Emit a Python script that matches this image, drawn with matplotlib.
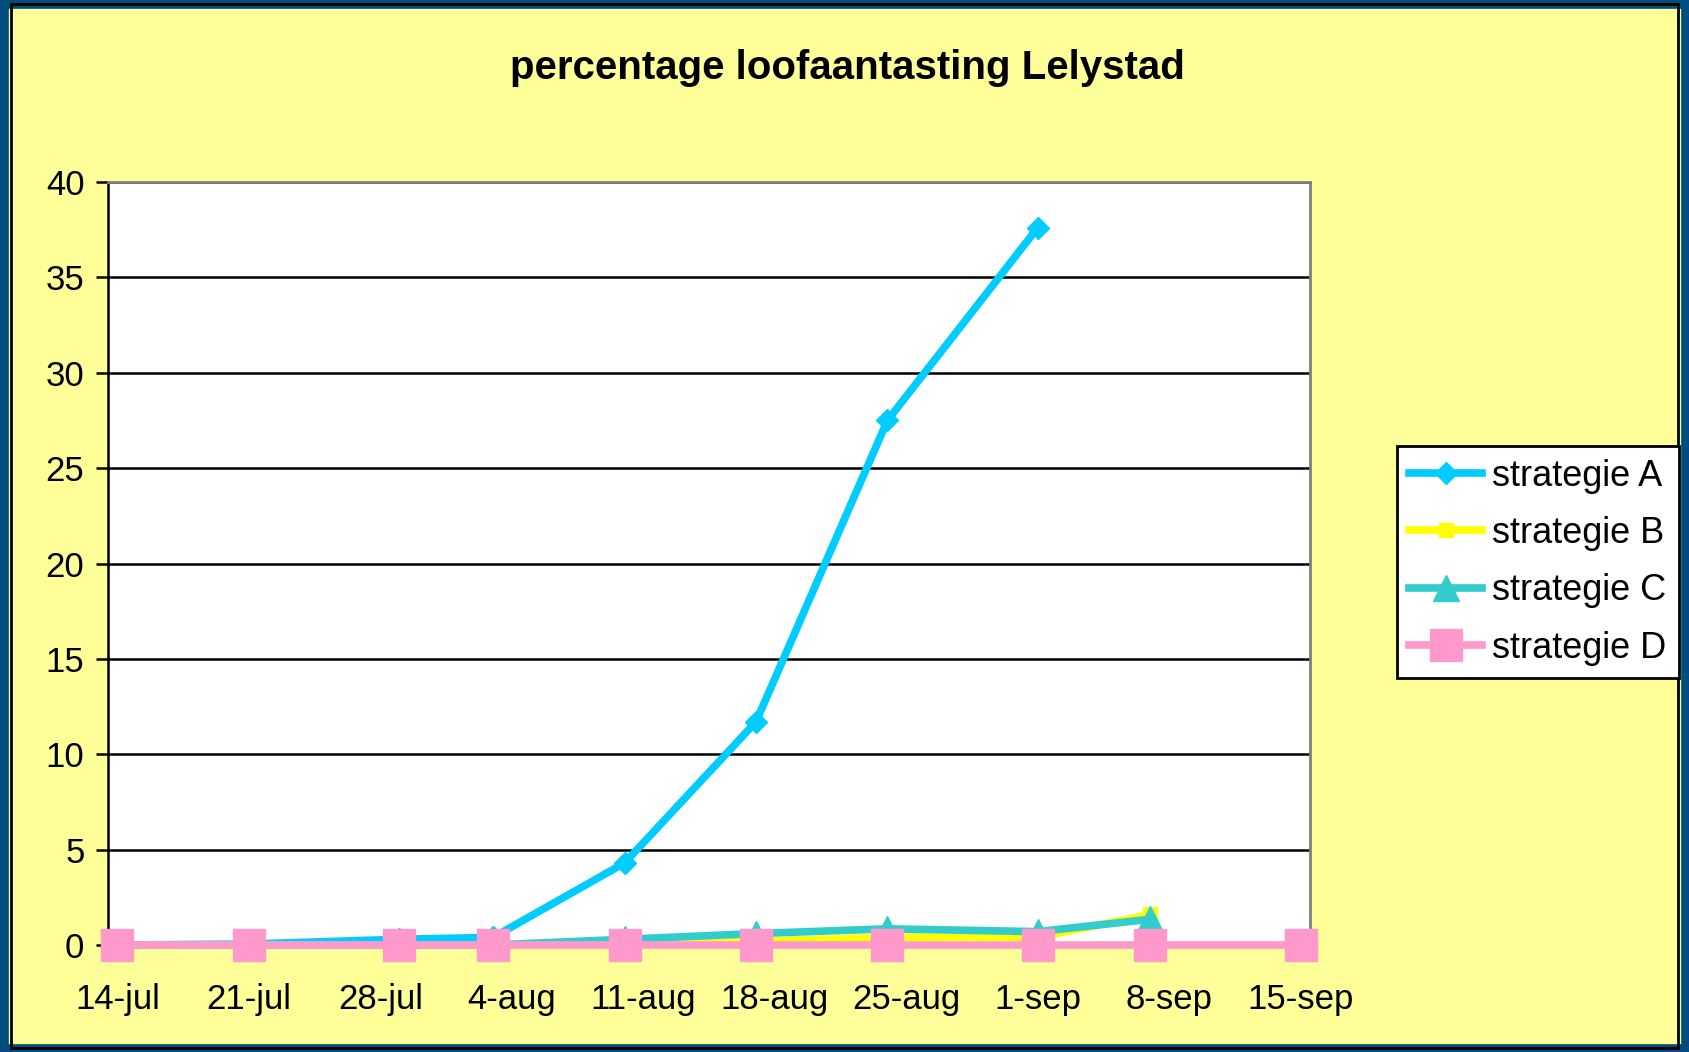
import numpy as np
import matplotlib
matplotlib.use('Agg')
import matplotlib.pyplot as plt
from matplotlib.patches import Rectangle

plt.rcParams['font.family'] = ['Liberation Sans', 'DejaVu Sans']

# days after 14-jul
tick_days = [0, 7, 14, 21, 28, 35, 42, 49, 56, 63]
tick_labels = ['14-jul', '21-jul', '28-jul', '4-aug', '11-aug', '18-aug',
               '25-aug', '1-sep', '8-sep', '15-sep']

obs_days = [0, 7, 15, 20, 27, 34, 41, 49, 55, 63]

strat_a = [0.0, 0.05, 0.3, 0.4, 4.3, 11.7, 27.5, 37.6]
strat_b = [0.0, 0.0, 0.0, 0.0, 0.1, 0.2, 0.4, 0.4, 1.6]
strat_c = [0.0, 0.0, 0.0, 0.0, 0.3, 0.6, 0.85, 0.7, 1.35]
strat_d = [0.0, 0.0, 0.0, 0.0, 0.0, 0.0, 0.0, 0.0, 0.0, 0.0]

fig = plt.figure(figsize=(16.89, 10.52), dpi=100)
fig.patch.set_facecolor('#FFFF99')

# outer frame
fig.patches.append(Rectangle((0, 0), 1, 1, transform=fig.transFigure,
                             fill=False, edgecolor='#004C7F', lw=12, zorder=0))
fig.patches.append(Rectangle((0.0065, 0.004), 0.987, 0.992, transform=fig.transFigure,
                             fill=False, edgecolor='black', lw=2, zorder=1))

ax = fig.add_axes([0.064, 0.1017, 0.7116, 0.7253])
ax.set_facecolor('white')

lw = 5.5
ax.plot(obs_days[:len(strat_a)], strat_a, color='#00CCFF', lw=lw, marker='D',
        ms=11, label='strategie A', clip_on=False, zorder=3)
ax.plot(obs_days[:len(strat_b)], strat_b, color='#FFFF00', lw=lw, marker='s',
        ms=10, label='strategie B', clip_on=False, zorder=4)
ax.plot(obs_days[:len(strat_c)], strat_c, color='#33CCCC', lw=lw, marker='^',
        ms=19, label='strategie C', clip_on=False, zorder=5)
ax.plot(obs_days[:len(strat_d)], strat_d, color='#FF99CC', lw=lw, marker='s',
        ms=23, label='strategie D', clip_on=False, zorder=6)

ax.set_xlim(-0.5, 63.5)
ax.set_ylim(0, 40)
ax.set_yticks(np.arange(0, 41, 5))
ax.set_xticks(tick_days)
ax.set_xticklabels(tick_labels)
ax.yaxis.grid(True, color='black', lw=1.8)
ax.set_axisbelow(True)

ax.tick_params(axis='y', direction='out', length=9, width=1.8, labelsize=25, pad=8)
ax.tick_params(axis='x', length=0, labelsize=25, pad=27)

ax.spines['left'].set_color('black')
ax.spines['left'].set_linewidth(1.8)
ax.spines['bottom'].set_color('black')
ax.spines['bottom'].set_linewidth(1.8)
for s in ['top', 'right']:
    ax.spines[s].set_color('#808080')
    ax.spines[s].set_linewidth(2)

fig.text(0.502, 0.935, 'percentage loofaantasting Lelystad', ha='center', va='center',
         fontsize=29, fontweight='bold')

leg = fig.legend(loc='upper left', bbox_to_anchor=(0.827, 0.576), fontsize=26,
                 frameon=True, fancybox=False, edgecolor='black', handlelength=2.0,
                 labelspacing=0.62, borderpad=0.35, handletextpad=0.3,
                 borderaxespad=0)
leg.get_frame().set_linewidth(2)
leg.get_frame().set_facecolor('white')
leg.get_frame().set_alpha(1)

fig.savefig('out.png', dpi=100, facecolor=fig.get_facecolor())
